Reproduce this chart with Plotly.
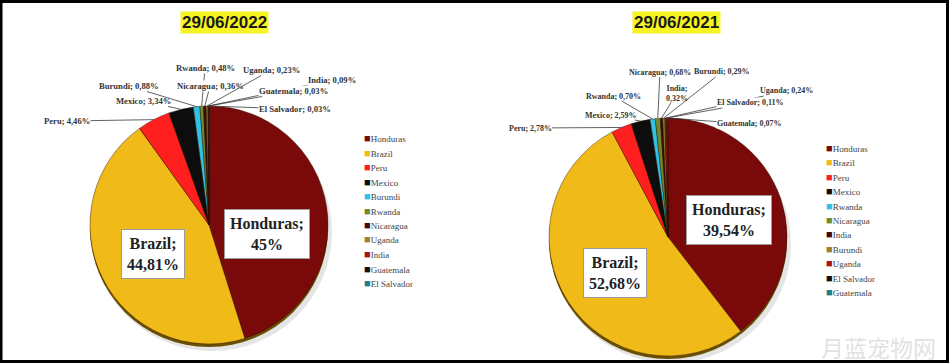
import math
import plotly.graph_objects as go

W, H = 949, 363

# ---------------- data ----------------
titles = ["29/06/2022", "29/06/2021"]

labels_2022 = ["Honduras", "Brazil", "Peru", "Mexico", "Burundi", "Rwanda",
               "Nicaragua", "Uganda", "India", "Guatemala", "El Salvador"]
values_2022 = [45.00, 44.81, 4.46, 3.34, 0.88, 0.48, 0.36, 0.23, 0.09, 0.03, 0.03]
texts_2022 = ["45%", "44,81%", "4,46%", "3,34%", "0,88%", "0,48%", "0,36%",
              "0,23%", "0,09%", "0,03%", "0,03%"]

labels_2021 = ["Honduras", "Brazil", "Peru", "Mexico", "Rwanda", "Nicaragua",
               "India", "Burundi", "Uganda", "El Salvador", "Guatemala"]
values_2021 = [39.54, 52.68, 2.78, 2.59, 0.70, 0.68, 0.32, 0.29, 0.24, 0.11, 0.07]
texts_2021 = ["39,54%", "52,68%", "2,78%", "2,59%", "0,70%", "0,68%", "0,32%",
              "0,29%", "0,24%", "0,11%", "0,07%"]

# ---------------- styles ----------------
slice_colors = ["#7A0A0A", "#F0BA18", "#FF1F1F", "#0D0D0D", "#2FC2E6", "#6F8A30",
                "#3D0B0B", "#9C7F2E", "#A51515", "#111111", "#1E7E8C"]

SERIF = "Liberation Serif"

def px(x):
    return x / W

def py(y):
    return 1 - y / H

# pie geometry (pixels): centre and radius
pies = [
    dict(cx=209, cy=225, r=119, labels=labels_2022, values=values_2022, texts=texts_2022,
         title_xy=(224, 22.5), legend_xy=(362, 138), legend_step=14.5,
         big_xy=[(267, 234), (153, 254)],
         small_xy={"Peru": (67, 121), "Mexico": (143, 101), "Burundi": (129, 86),
                   "Rwanda": (205, 68), "Nicaragua": (210, 86), "Uganda": (271, 70),
                   "India": (332, 80), "Guatemala": (293, 91), "El Salvador": (295, 109)},
         small_size=8.6),
    dict(cx=668, cy=237, r=119, labels=labels_2021, values=values_2021, texts=texts_2021,
         title_xy=(676, 22.5), legend_xy=(824, 148), legend_step=14.4,
         big_xy=[(729, 220), (615, 273)],
         small_xy={"Peru": (530, 128), "Mexico": (611, 115), "Rwanda": (613, 96),
                   "Nicaragua": (660, 72), "India": (677, 93), "Burundi": (722, 72),
                   "Uganda": (786, 91), "El Salvador": (750, 103), "Guatemala": (749, 124)},
         small_size=8.0),
]

fig = go.Figure()
shapes = []
annotations = []

for k, p in enumerate(pies):
    cx, cy, r = p["cx"], p["cy"], p["r"]
    # shadow / 3D rim behind the pie
    shapes.append(dict(type="circle", xref="paper", yref="paper", layer="below",
                       x0=px(cx - r + 2), x1=px(cx + r + 4), y0=py(cy + r + 7), y1=py(cy - r + 7),
                       fillcolor="rgba(0,0,0,0.10)", line=dict(width=0)))
    shapes.append(dict(type="circle", xref="paper", yref="paper", layer="below",
                       x0=px(cx - r), x1=px(cx + r), y0=py(cy + r + 3), y1=py(cy - r + 3),
                       fillcolor="#6A5000", line=dict(width=0)))

    fig.add_trace(go.Pie(
        labels=p["labels"], values=p["values"], sort=False, direction="clockwise",
        rotation=0, textinfo="none", hoverinfo="label+percent",
        marker=dict(colors=slice_colors, line=dict(color="rgba(40,15,0,0.7)", width=0.6)),
        domain=dict(x=[px(cx - r), px(cx + r)], y=[py(cy + r), py(cy - r)]),
        showlegend=False,
    ))

    # title
    tx, ty = p["title_xy"]
    annotations.append(dict(x=px(tx), y=py(ty), xref="paper", yref="paper", showarrow=False,
                            xanchor="center", yanchor="middle",
                            text="<b>%s</b>" % titles[k],
                            font=dict(family="Liberation Sans", size=17, color="#1a1a1a"),
                            bgcolor="#F6F422", borderpad=1))

    total = sum(p["values"])
    cum = 0.0
    for i, (lab, val, txt) in enumerate(zip(p["labels"], p["values"], p["texts"])):
        mid = (cum + val / 2) / total * 2 * math.pi
        cum += val
        ex = cx + r * math.sin(mid)
        ey = cy - r * math.cos(mid)
        if i < 2:
            bx, by = p["big_xy"][i]
            annotations.append(dict(x=px(bx), y=py(by), xref="paper", yref="paper",
                                    xanchor="center", yanchor="middle",
                                    showarrow=False, text="<b>%s;<br>%s</b>" % (lab, txt),
                                    font=dict(family=SERIF, size=16, color="#222"),
                                    bgcolor="white", bordercolor="#9a9a9a", borderwidth=1,
                                    borderpad=5))
        else:
            lx, ly = p["small_xy"][lab]
            if lab == "India" and k == 1:
                t = "<b>%s;<br>%s</b>" % (lab, txt)
            else:
                t = "<b>%s; %s</b>" % (lab, txt)
            annotations.append(dict(x=px(ex), y=py(ey), xref="paper", yref="paper",
                                    ax=lx - ex, ay=ly - ey, axref="pixel", ayref="pixel",
                                    xanchor="center", yanchor="middle",
                                    showarrow=True, arrowhead=0, arrowwidth=0.8,
                                    arrowcolor="#3a3a3a", standoff=0, startstandoff=0,
                                    text=t, font=dict(family=SERIF, size=p["small_size"], color="#333"),
                                    bgcolor="white", borderpad=0))

    # legend (drawn as text entries)
    lx0, ly0 = p["legend_xy"]
    for i, lab in enumerate(p["labels"]):
        annotations.append(dict(x=px(lx0), y=py(ly0 + i * p["legend_step"]), xref="paper",
                                yref="paper", xanchor="left", yanchor="middle", showarrow=False,
                                text="<span style='color:%s;font-size:11px'>■</span>"
                                     "<span style='color:#444'>%s</span>"
                                     % (slice_colors[i], lab),
                                font=dict(family=SERIF, size=9, color="#444")))

# watermark
annotations.append(dict(x=px(878), y=py(347), xref="paper", yref="paper", showarrow=False,
                        xanchor="center", yanchor="middle",
                        text="月蓝宠物网",
                        font=dict(family="Noto Sans CJK SC", size=23, color="rgba(200,200,200,0.55)")))

# photo frame
shapes.append(dict(type="rect", xref="paper", yref="paper", layer="above",
                   x0=px(1), x1=px(947.5), y0=py(361.5), y1=py(1.5),
                   line=dict(color="black", width=3), fillcolor="rgba(0,0,0,0)"))

fig.update_layout(
    width=W, height=H, margin=dict(l=0, r=0, t=0, b=0),
    paper_bgcolor="white", plot_bgcolor="white",
    shapes=shapes, annotations=annotations, showlegend=False,
)

fig.write_html("out.html", config={"displayModeBar": False},
               post_script="document.body.style.margin='0px';document.body.style.overflow='hidden';")
